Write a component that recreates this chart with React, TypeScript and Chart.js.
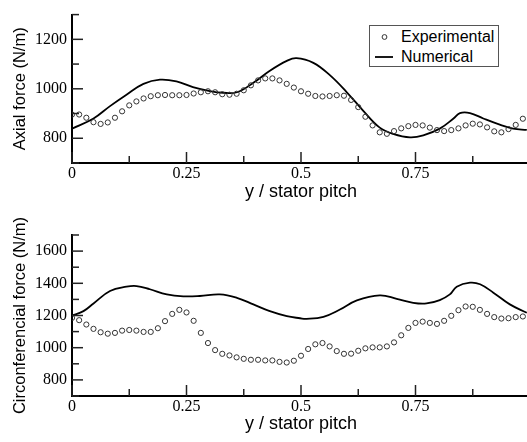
import React, { useEffect, useRef } from 'react';
import { Chart, registerables } from 'chart.js';

Chart.register(...registerables);

// ---- data ----
const expPositions = [
  0, 0.0156, 0.0313, 0.0469, 0.0625, 0.0781, 0.0938, 0.1094, 0.125, 0.1406, 0.1563, 0.1719, 0.1875, 0.2031, 0.2188, 0.2344,
  0.25, 0.2656, 0.2813, 0.2969, 0.3125, 0.3281, 0.3438, 0.3594, 0.375, 0.3906, 0.4063, 0.4219, 0.4375, 0.4531, 0.4688, 0.4844,
  0.5, 0.5156, 0.5313, 0.5469, 0.5625, 0.5781, 0.5938, 0.6094, 0.625, 0.6406, 0.6563, 0.6719, 0.6875, 0.7031, 0.7188, 0.7344,
  0.75, 0.7656, 0.7813, 0.7969, 0.8125, 0.8281, 0.8438, 0.8594, 0.875, 0.8906, 0.9063, 0.9219, 0.9375, 0.9531, 0.9688, 0.9844,
];

const axialExperimental = [
  896, 896, 883, 865, 858, 864, 883, 909, 933, 949, 961, 970, 974, 975, 974, 974,
  975, 981, 986, 990, 986, 978, 976, 980, 994, 1014, 1034, 1042, 1042, 1034, 1020, 1005,
  990, 980, 971, 969, 971, 974, 972, 955, 926, 887, 852, 824, 818, 829, 840, 849,
  854, 852, 843, 833, 829, 833, 840, 852, 859, 856, 844, 828, 824, 837, 854, 879,
];

const axialNumericalX = [
  0, 0.047, 0.083, 0.119, 0.156, 0.192, 0.228, 0.264, 0.301, 0.33, 0.36, 0.396, 0.432, 0.469, 0.49, 0.527,
  0.563, 0.6, 0.636, 0.672, 0.701, 0.738, 0.767, 0.803, 0.833, 0.847, 0.869, 0.898, 0.934, 0.963, 0.993,
];
const axialNumericalY = [
  839, 880, 930, 976, 1020, 1037, 1030, 1007, 991, 984, 986, 1024, 1073, 1113, 1124, 1105,
  1055, 986, 911, 843, 818, 804, 812, 839, 880, 902, 902, 880, 855, 839, 834,
];

const circExperimental = [
  1185, 1171, 1144, 1117, 1096, 1087, 1092, 1106, 1110, 1106, 1098, 1098, 1121, 1165, 1210, 1235,
  1219, 1167, 1092, 1029, 985, 962, 952, 940, 931, 925, 925, 921, 921, 912, 908, 919,
  950, 992, 1021, 1029, 1008, 979, 962, 963, 981, 996, 1002, 1002, 1008, 1033, 1077, 1123,
  1154, 1162, 1154, 1148, 1167, 1198, 1233, 1256, 1254, 1235, 1210, 1190, 1181, 1183, 1190, 1194,
];

const circNumericalX = [
  0, 0.025, 0.047, 0.083, 0.119, 0.141, 0.17, 0.207, 0.243, 0.279, 0.323, 0.36, 0.396, 0.432, 0.469, 0.498,
  0.512, 0.549, 0.585, 0.622, 0.672, 0.709, 0.745, 0.774, 0.803, 0.825, 0.84, 0.869, 0.891, 0.92, 0.956, 0.993,
];
const circNumericalY = [
  1200, 1227, 1275, 1352, 1379, 1383, 1363, 1331, 1319, 1321, 1331, 1310, 1269, 1227, 1196, 1183,
  1179, 1192, 1237, 1294, 1325, 1304, 1279, 1275, 1296, 1331, 1379, 1404, 1394, 1342, 1269, 1217,
];

const xTickValues = [0, 0.125, 0.25, 0.375, 0.5, 0.625, 0.75, 0.875, 1];
const xTickLabels = ['0', '', '0.25', '', '0.5', '', '0.75', '', '1'];
const axialTickValues = [700, 800, 900, 1000, 1100, 1200, 1300];
const axialTickLabels = ['', '800', '', '1000', '', '1200', ''];
const circTickValues = [700, 800, 900, 1000, 1100, 1200, 1300, 1400, 1500, 1600, 1700];
const circTickLabels = ['', '800', '', '1000', '', '1200', '', '1400', '', '1600', ''];

const seriesNames = ['Experimental', 'Numerical'];
const xTitle = 'y / stator pitch';
const axialTitle = 'Axial force (N/m)';
const circTitle = 'Circonferencial force (N/m)';

const SERIF = '"Liberation Serif"';
const SANS = '"Liberation Sans"';

// ---- helpers ----
const inwardTicks = {
  id: 'inwardTicks',
  afterDraw(chart: any) {
    const { ctx, chartArea } = chart;
    const xs = chart.scales.x;
    const ys = chart.scales.y;
    ctx.save();
    ctx.strokeStyle = '#222';
    ctx.lineWidth = 1.5;
    xs.ticks.forEach((t: any) => {
      const px = xs.getPixelForValue(t.value);
      const len = t.label ? 11 : 7;
      ctx.beginPath();
      ctx.moveTo(px, chartArea.bottom);
      ctx.lineTo(px, chartArea.bottom - len);
      ctx.stroke();
    });
    ys.ticks.forEach((t: any) => {
      const py = ys.getPixelForValue(t.value);
      const len = t.label ? 11 : 7;
      ctx.beginPath();
      ctx.moveTo(chartArea.left, py);
      ctx.lineTo(chartArea.left + len, py);
      ctx.stroke();
    });
    ctx.restore();
  },
};

type PanelProps = {
  expValues: number[];
  numX: number[];
  numY: number[];
  yTickValues: number[];
  yTickLabels: string[];
  yTitle: string;
  height: number;
  padTop: number;
  xAxisHeight: number;
  xTitlePad: number;
};

function Panel(p: PanelProps) {
  const ref = useRef<HTMLCanvasElement | null>(null);
  useEffect(() => {
    if (!ref.current) return;
    const chart = new Chart(ref.current, {
      type: 'scatter',
      data: {
        datasets: [
          {
            label: seriesNames[0],
            data: expPositions.map((x, i) => ({ x, y: p.expValues[i] })),
            showLine: false,
            pointRadius: 2.6,
            pointBorderWidth: 1,
            pointBorderColor: '#333',
            pointBackgroundColor: 'rgba(255,255,255,0)',
            borderColor: '#333',
          },
          {
            label: seriesNames[1],
            data: p.numX.map((x, i) => ({ x, y: p.numY[i] })),
            showLine: true,
            pointRadius: 0,
            borderColor: '#000',
            borderWidth: 1.8,
            tension: 0.4,
          },
        ],
      },
      options: {
        animation: false,
        responsive: false,
        devicePixelRatio: 1,
        layout: { padding: { top: p.padTop, right: 10, left: 0, bottom: 0 } },
        plugins: { legend: { display: false }, tooltip: { enabled: false } },
        scales: {
          x: {
            type: 'linear',
            min: 0,
            max: 1,
            afterBuildTicks: (s: any) => {
              s.ticks = xTickValues.map((v) => ({ value: v }));
            },
            afterFit: (s: any) => {
              s.height = p.xAxisHeight;
            },
            ticks: {
              autoSkip: false,
              maxRotation: 0,
              padding: 1,
              color: '#000',
              font: { family: SERIF, size: 16 },
              callback: (v: any) => {
                const i = xTickValues.indexOf(Number(v));
                return i >= 0 ? xTickLabels[i] : '';
              },
            },
            grid: { display: false, drawTicks: false },
            border: { display: true, color: '#000', width: 2 },
            title: {
              display: true,
              text: xTitle,
              color: '#000',
              font: { family: SANS, size: 18 },
              padding: { top: 0, bottom: p.xTitlePad },
            },
          },
          y: {
            type: 'linear',
            min: p.yTickValues[0],
            max: p.yTickValues[p.yTickValues.length - 1],
            afterBuildTicks: (s: any) => {
              s.ticks = p.yTickValues.map((v) => ({ value: v }));
            },
            afterFit: (s: any) => {
              s.width = 72;
            },
            ticks: {
              autoSkip: false,
              padding: 5,
              color: '#000',
              font: { family: SERIF, size: 16 },
              callback: (v: any) => {
                const i = p.yTickValues.indexOf(Number(v));
                return i >= 0 ? p.yTickLabels[i] : '';
              },
            },
            grid: { display: false, drawTicks: false },
            border: { display: true, color: '#000', width: 2 },
            title: {
              display: true,
              text: p.yTitle,
              color: '#000',
              font: { family: SANS, size: 16.5 },
              padding: { top: 10.5, bottom: 0 },
            },
          },
        },
      },
      plugins: [inwardTicks],
    } as any);
    return () => chart.destroy();
  }, []);
  return <canvas ref={ref} width={540} height={p.height} style={{ display: 'block' }} />;
}

function Legend() {
  const row: React.CSSProperties = {
    position: 'absolute',
    left: 31,
    height: 20,
    lineHeight: '20px',
    fontFamily: SANS,
    fontSize: 16,
    color: '#000',
    whiteSpace: 'nowrap',
  };
  return (
    <div
      style={{
        position: 'absolute',
        left: 369,
        top: 25,
        width: 128,
        height: 40,
        border: '1px solid #555',
        background: '#fff',
      }}
    >
      <svg width={128} height={40} style={{ position: 'absolute', left: 0, top: 0 }}>
        <circle cx={14.5} cy={11} r={2.4} fill="none" stroke="#333" strokeWidth={1} />
        <line x1={5} y1={31} x2={23} y2={31} stroke="#000" strokeWidth={1.8} />
      </svg>
      <span style={{ ...row, top: 1 }}>{seriesNames[0]}</span>
      <span style={{ ...row, top: 21 }}>{seriesNames[1]}</span>
    </div>
  );
}

export default function App() {
  return (
    <div
      style={{
        position: 'fixed',
        left: 0,
        top: 0,
        width: 527,
        height: 442,
        overflow: 'hidden',
        background: '#fff',
      }}
    >
      <div style={{ position: 'absolute', left: 0, top: 0 }}>
        <Panel
          expValues={axialExperimental}
          numX={axialNumericalX}
          numY={axialNumericalY}
          yTickValues={axialTickValues}
          yTickLabels={axialTickLabels}
          yTitle={axialTitle}
          height={220}
          padTop={3}
          xAxisHeight={57}
          xTitlePad={17}
        />
      </div>
      <div style={{ position: 'absolute', left: 0, top: 195 }}>
        <Panel
          expValues={circExperimental}
          numX={circNumericalX}
          numY={circNumericalY}
          yTickValues={circTickValues}
          yTickLabels={circTickLabels}
          yTitle={circTitle}
          height={247}
          padTop={40}
          xAxisHeight={46}
          xTitlePad={7}
        />
      </div>
      <Legend />
    </div>
  );
}
